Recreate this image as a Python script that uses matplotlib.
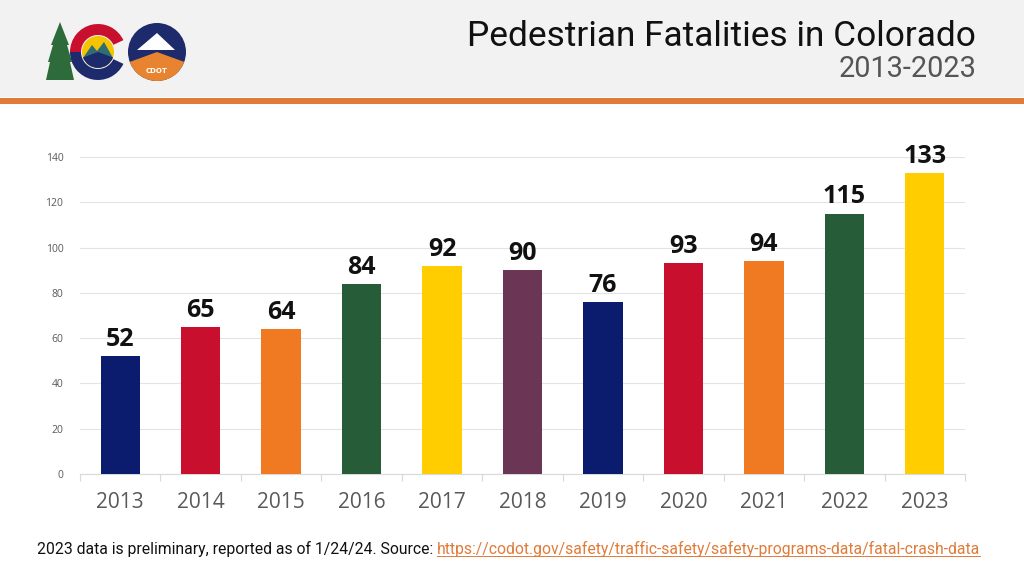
import matplotlib
matplotlib.use('Agg')
import matplotlib.pyplot as plt
from matplotlib.patches import Rectangle, Wedge, Circle, Polygon

# ---- data ----
years = ['2013', '2014', '2015', '2016', '2017', '2018', '2019', '2020', '2021', '2022', '2023']
fatalities = [52, 65, 64, 84, 92, 90, 76, 93, 94, 115, 133]
bar_colors = ['#0b1c6e', '#c8102e', '#f07a22', '#275c39', '#ffcd00', '#6b3656',
              '#0b1c6e', '#c8102e', '#f07a22', '#275c39', '#ffcd00']
y_ticks = [0, 20, 40, 60, 80, 100, 120, 140]
title = 'Pedestrian Fatalities in Colorado'
subtitle = '2013-2023'
footnote = '2023 data is preliminary, reported as of 1/24/24. Source: '
link = 'https://codot.gov/safety/traffic-safety/safety-programs-data/fatal-crash-data'

NARROW = ['Roboto', 'DejaVu Sans']
BODY = ['Open Sans', 'DejaVu Sans']

W, H = 1024, 576
fig = plt.figure(figsize=(W / 100, H / 100), dpi=100)
fig.patch.set_facecolor('white')


def fx(px):
    return px / W


def fy(py):
    return 1 - py / H


def fit_width(txt, target_px):
    fig.canvas.draw()
    w = txt.get_window_extent().width
    txt.set_fontsize(txt.get_fontsize() * target_px / w)


# header band
fig.add_artist(Rectangle((0, fy(97)), 1, 97 / H, transform=fig.transFigure,
                         facecolor='#f2f2f2', edgecolor='none', zorder=0))
fig.add_artist(Rectangle((0, fy(104)), 1, 6 / H, transform=fig.transFigure,
                         facecolor='#e07b39', edgecolor='none', zorder=1))

tt = fig.text(fx(976), fy(36), title, ha='right', va='center', fontsize=25,
              family=NARROW, color='#111111')
fit_width(tt, 509)
st = fig.text(fx(976), fy(69), subtitle, ha='right', va='center', fontsize=20,
              family=NARROW, color='#555555')
fit_width(st, 137)

# ---- simplified logos ----
lax = fig.add_axes([fx(40), fy(88), fx(160), 68 / H])
lax.set_xlim(40, 200)
lax.set_ylim(-88, -20)
lax.axis('off')
# tree
lax.add_patch(Polygon([(46, -80), (50, -62), (48, -62), (53, -45), (51, -45),
                       (60, -22), (69, -45), (67, -45), (72, -62), (70, -62),
                       (74, -80)], closed=True,
                      facecolor='#2e6b3a', edgecolor='none'))
# C
lax.add_patch(Wedge((98, -52), 28, 25, 180, width=11, facecolor='#c8102e'))
lax.add_patch(Wedge((98, -52), 28, 180, 335, width=11, facecolor='#1d2a6b'))
lax.add_patch(Circle((98, -52), 16, facecolor='#f5c400'))
lax.add_patch(Polygon([(83, -58), (92, -45), (97, -51), (104, -42), (113, -58)],
                      closed=True, facecolor='#2f6d75'))
lax.add_patch(Wedge((98, -52), 16, 200, 340, facecolor='#1d2a6b'))
# CDOT
lax.add_patch(Circle((157, -52), 29, facecolor='#1d2a6b'))
lax.add_patch(Wedge((157, -52), 29, 200, 340, facecolor='#e8832f'))
lax.add_patch(Polygon([(137, -50), (157, -33), (175, -50)], closed=True,
                      facecolor='white'))
lax.text(157, -71, 'CDOT', ha='center', va='center', fontsize=5,
         color='white', fontweight='bold')

# ---- chart ----
ax = fig.add_axes([fx(80), fy(474), 885 / W, 317 / H])
x = list(range(len(years)))
ax.bar(x, fatalities, width=0.49, color=bar_colors, zorder=3)
ax.set_xlim(-0.5, len(years) - 0.5)
ax.set_ylim(0, 140)
ax.set_yticks(y_ticks)
ax.set_yticklabels([str(v) for v in y_ticks])
ax.set_xticks(x)
ax.set_xticklabels(years)
ax.set_xticks([i - 0.5 for i in range(len(years) + 1)], minor=True)
ax.tick_params(axis='x', which='major', length=0, pad=13, labelsize=15,
               labelcolor='#595959')
ax.tick_params(axis='x', which='minor', length=5, color='#d9d9d9', width=0.8)
ax.tick_params(axis='y', length=0, pad=12, labelsize=7.5, labelcolor='#595959')
for lab in ax.get_xticklabels():
    lab.set_family(BODY)
for lab in ax.get_yticklabels():
    lab.set_family(BODY)
ax.grid(axis='y', color='#e3e3e3', linewidth=0.8, zorder=0)
for s in ['top', 'right', 'left']:
    ax.spines[s].set_visible(False)
ax.spines['bottom'].set_color('#d9d9d9')
ax.spines['bottom'].set_linewidth(0.8)
ax.set_facecolor('white')

for xi, v in zip(x, fatalities):
    ax.annotate(str(v), (xi, v), xytext=(0, 3), textcoords='offset points',
                ha='center', va='bottom', fontsize=18, fontweight='bold',
                family=BODY, color='#111111', clip_on=False)

# ---- footnote ----
t1 = fig.text(fx(37), fy(549), footnote, ha='left', va='center', fontsize=10,
              family=NARROW, color='#111111')
t2 = fig.text(fx(400), fy(549), link, ha='left', va='center', fontsize=10,
              family=NARROW, color='#e07b39')
fig.canvas.draw()
total = t1.get_window_extent().width + t2.get_window_extent().width
scale = 941 / total
t1.set_fontsize(10 * scale)
t2.set_fontsize(10 * scale)
fig.canvas.draw()
bb = t1.get_window_extent()
t2.set_x(bb.x1 / W)
fig.canvas.draw()
bb2 = t2.get_window_extent()
fig.add_artist(plt.Line2D([bb2.x0 / W, bb2.x1 / W], [bb2.y0 / H + 0.002, bb2.y0 / H + 0.002],
                          transform=fig.transFigure, color='#e07b39', lw=0.7))

fig.savefig('out.png', dpi=100, facecolor='white')
